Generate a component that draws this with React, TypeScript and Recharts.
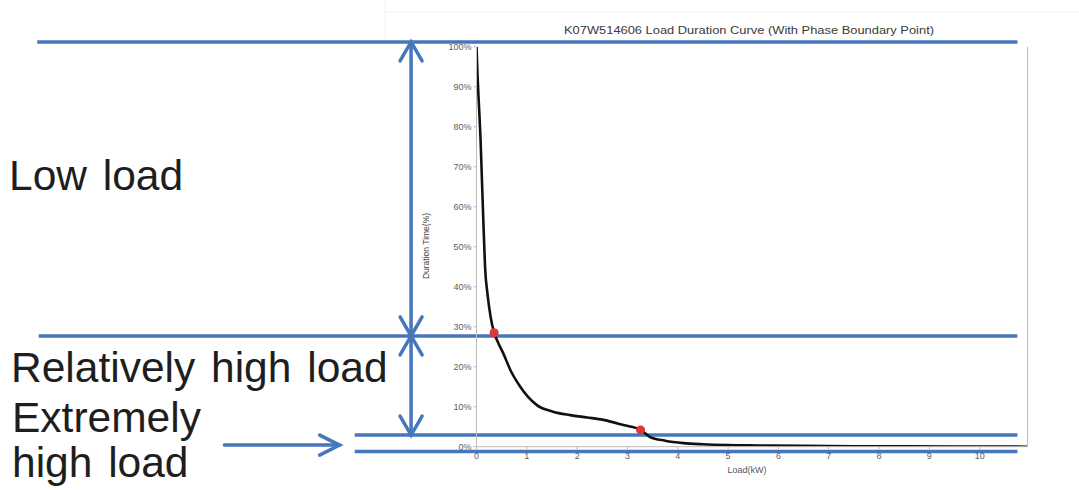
import { ComposedChart, Line, Scatter, XAxis, YAxis, ReferenceLine } from "recharts";

// Load duration curve: load (kW) vs share of time the load is exceeded (%)
const loadKw = [0, 0.02, 0.05, 0.08, 0.11, 0.14, 0.17, 0.22, 0.28, 0.35, 0.43, 0.53, 0.68, 0.87, 1.02, 1.2, 1.52, 1.86, 2.2, 2.52, 2.92, 3.26, 3.45, 3.75, 4.11, 4.5, 4.99, 5.6, 6.44, 7.5, 8.5, 9.5, 10.4, 10.95];
const durationPct = [100, 93, 85, 77, 66, 55, 45, 38, 32.5, 28.5, 26, 23.4, 19, 15, 12.5, 10.4, 8.75, 7.9, 7.3, 6.7, 5.4, 4.2, 2.4, 1.5, 0.9, 0.6, 0.4, 0.3, 0.2, 0.12, 0.08, 0.05, 0.02, 0];

// phase boundary points on the curve
const boundaryLoad = [0.35, 3.26];
const boundaryDuration = [28.5, 4.2];

const xTicks = [0, 1, 2, 3, 4, 5, 6, 7, 8, 9, 10];
const yTicks = [0, 10, 20, 30, 40, 50, 60, 70, 80, 90, 100];

const curve = loadKw.map((load, i) => ({ load, duration: durationPct[i] }));
const boundaries = boundaryLoad.map((load, i) => ({ load, duration: boundaryDuration[i] }));

// annotation lines (data units), drawn past the plot on the left
const bandLines = [
  { y: 101.2, from: -8.73 },
  { y: 27.7, from: -8.7 },
  { y: 2.9, from: -2.42 },
  { y: -1.2, from: -2.42 },
];
const bandRight = 10.75;
const arrowX = -1.3;
const spans = [
  [101.2, 27.7],
  [27.7, 2.9],
];
const pointer = { from: -5.01, to: -2.72, y: 0.4 };

const BLUE = "#4677bb";
const FONT = "'Liberation Sans', Arial, sans-serif";
const tickStyle = { fontSize: 9, fill: "#606060", fontFamily: FONT };

function DoubleArrow(props: any) {
  const { x1, y1, y2 } = props;
  const top = Math.min(y1, y2);
  const bot = Math.max(y1, y2);
  return (
    <g stroke={BLUE} strokeWidth={3.5} fill="none" strokeLinecap="round">
      <line x1={x1} y1={top} x2={x1} y2={bot} />
      <polyline points={`${x1 - 11},${top + 19} ${x1},${top} ${x1 + 11},${top + 19}`} />
      <polyline points={`${x1 - 11},${bot - 19} ${x1},${bot} ${x1 + 11},${bot - 19}`} />
    </g>
  );
}

function RightArrow(props: any) {
  const { x1, y1, x2 } = props;
  const tip = Math.max(x1, x2);
  const tail = Math.min(x1, x2);
  return (
    <g stroke={BLUE} strokeWidth={3.5} fill="none" strokeLinecap="round">
      <line x1={tail} y1={y1} x2={tip} y2={y1} />
      <polyline points={`${tip - 20},${y1 - 10} ${tip},${y1} ${tip - 20},${y1 + 10}`} />
    </g>
  );
}

export default function App() {
  return (
    <div style={{ position: "absolute", left: 0, top: 0, background: "#fff" }}>
      <ComposedChart
        width={1079}
        height={490}
        margin={{ top: 46.7, right: 51.5, bottom: 13.3, left: 436.5 }}
      >
        <line x1={385} y1={12} x2={1079} y2={12} stroke="#f2f2f2" />
        <line x1={385} y1={0} x2={385} y2={40} stroke="#f2f2f2" />
        <XAxis
          dataKey="load"
          type="number"
          domain={[0, 10.95]}
          ticks={xTicks}
          allowDataOverflow
          height={30}
          tick={tickStyle}
          tickSize={3}
          tickMargin={3}
          stroke="#bdbdbd"
        />
        <XAxis
          xAxisId="top"
          orientation="top"
          dataKey="load"
          type="number"
          domain={[0, 10.95]}
          ticks={xTicks}
          height={0}
          mirror
          tickSize={4}
          tickFormatter={() => ""}
          stroke="#bdbdbd"
        />
        <YAxis
          type="number"
          domain={[0, 100]}
          ticks={yTicks}
          allowDataOverflow
          width={40}
          tick={tickStyle}
          tickSize={3}
          tickMargin={2}
          tickFormatter={(v: number) => `${v}%`}
          stroke="#bdbdbd"
        />
        <YAxis
          yAxisId="right"
          orientation="right"
          type="number"
          domain={[0, 100]}
          ticks={yTicks}
          width={1}
          mirror
          tickSize={4}
          tickFormatter={() => ""}
          stroke="#bdbdbd"
        />

        {bandLines.map((b, i) => (
          <ReferenceLine
            key={`band-${i}`}
            segment={[
              { x: b.from, y: b.y },
              { x: bandRight, y: b.y },
            ]}
            ifOverflow="visible"
            stroke={BLUE}
            strokeWidth={3.5}
          />
        ))}
        {spans.map((s, i) => (
          <ReferenceLine
            key={`span-${i}`}
            segment={[
              { x: arrowX, y: s[0] },
              { x: arrowX, y: s[1] },
            ]}
            ifOverflow="visible"
            shape={DoubleArrow}
          />
        ))}
        <ReferenceLine
          segment={[
            { x: pointer.from, y: pointer.y },
            { x: pointer.to, y: pointer.y },
          ]}
          ifOverflow="visible"
          shape={RightArrow}
        />

        <Line
          data={curve}
          dataKey="duration"
          type="monotone"
          stroke="#111"
          strokeWidth={2.6}
          dot={false}
          isAnimationActive={false}
        />
        <Scatter data={boundaries} dataKey="duration" fill="#e0353a" isAnimationActive={false} />

        <text x={749} y={34} textAnchor="middle" fontSize={10} fill="#3a3a3a" fontFamily={FONT} textLength={370} lengthAdjust="spacingAndGlyphs">
          K07W514606 Load Duration Curve (With Phase Boundary Point)
        </text>
        <text
          x={429}
          y={246}
          transform="rotate(-90, 429, 246)"
          textAnchor="middle"
          fontSize={8.5}
          fill="#444"
          fontFamily={FONT}
        >
          Duration Time(%)
        </text>
        <text x={747} y={473} textAnchor="middle" fontSize={9} fill="#555" fontFamily={FONT}>
          Load(kW)
        </text>

        <g fontFamily={FONT} fontSize={42.5} fill="#1e1e1e" wordSpacing={4}>
          <text x={9} y={190}>Low load</text>
          <text x={11} y={382}>Relatively high load</text>
          <text x={12} y={432}>Extremely</text>
          <text x={12} y={477}>high load</text>
        </g>
      </ComposedChart>
    </div>
  );
}
